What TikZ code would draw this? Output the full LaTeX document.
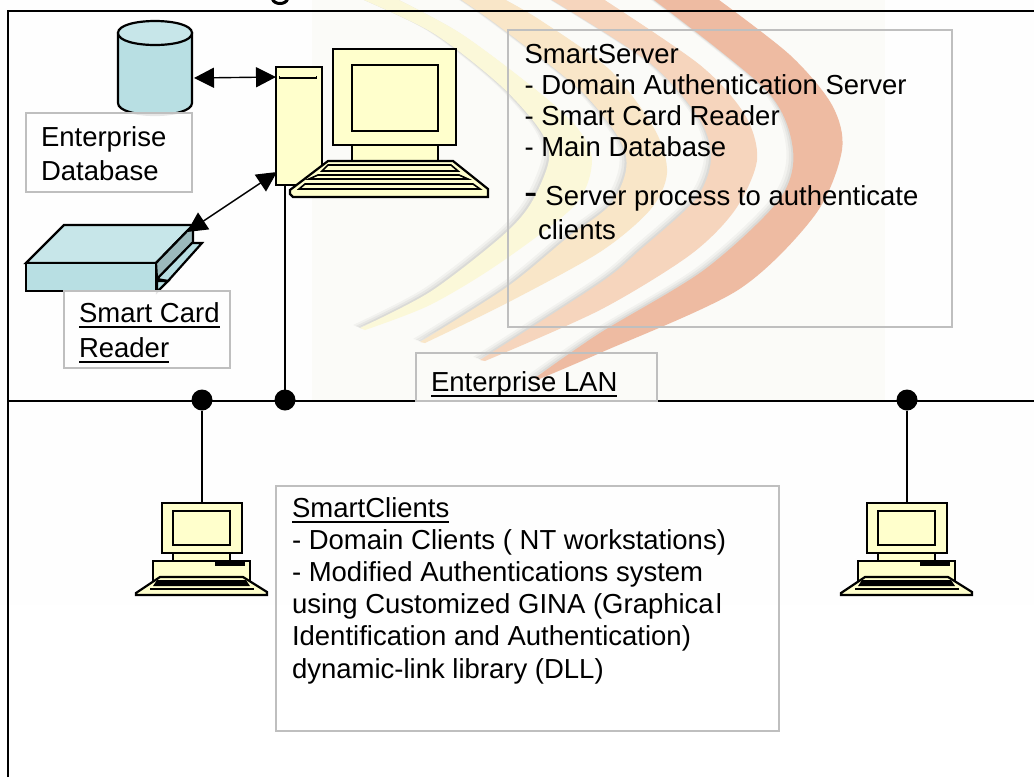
\documentclass[tikz,border=0pt]{standalone}
\usepackage{fontspec}
\setmainfont{Liberation Sans}
\usetikzlibrary{arrows.meta}
\definecolor{pcy}{HTML}{FFFFCC}
\definecolor{tealf}{HTML}{B8DFE3}
\definecolor{tealt}{HTML}{C7E6E9}
\definecolor{teald}{HTML}{9BB9BC}
\definecolor{gborder}{HTML}{BFBFBF}
\definecolor{paper}{HTML}{FBFBF8}
\definecolor{offw}{HTML}{FEFEFE}
\definecolor{swa}{HTML}{FBF8D9}
\definecolor{swb}{HTML}{F9E6C8}
\definecolor{swc}{HTML}{F6D5BD}
\definecolor{swd}{HTML}{EEBBA2}
\newcommand\ulx[1]{\setbox0\hbox{#1}\rlap{\rule[-6pt]{\wd0}{2pt}}\box0}
\newcommand\toprule{\rule{0pt}{20pt}}
\newcommand\swoosh[3]{%
  \fill[gray,opacity=.07,xshift=-7pt,yshift=3pt] plot[smooth] coordinates {#2} -- plot[smooth] coordinates {#3} -- cycle;
  \fill[gray,opacity=.09,xshift=-4.5pt,yshift=2pt] plot[smooth] coordinates {#2} -- plot[smooth] coordinates {#3} -- cycle;
  \fill[gray,opacity=.12,xshift=-2pt,yshift=1pt] plot[smooth] coordinates {#2} -- plot[smooth] coordinates {#3} -- cycle;
  \fill[#1] plot[smooth] coordinates {#2} -- plot[smooth] coordinates {#3} -- cycle;
}
\tikzset{
  x=1pt,y=-1pt,
  pcline/.style={draw=black,line width=2.2pt,fill=pcy,line join=miter,outer sep=0pt},
  thick2/.style={draw=black,line width=2pt},
  gbox/.style={draw=gborder,line width=2pt,inner sep=0pt,outer sep=0pt,anchor=north west},
  bdot/.style={circle,fill=black,minimum size=21pt,inner sep=0pt,outer sep=0pt},
  txt/.style={font=\fontsize{27.5}{#1}\selectfont,inner sep=0pt,outer sep=0pt,anchor=north west,align=left,text=black},
  twoway/.style={line width=1.4pt,{Triangle[length=20pt,width=20pt]}-{Triangle[length=20pt,width=20pt]}},
  client/.pic={
    \node[pcline,minimum width=80pt,minimum height=50pt,inner sep=0pt,anchor=north west] (-mon) at (162,503) {};
    \draw[pcline] (173,511) rectangle (230,545);
    \draw[pcline] (173,553) rectangle (230,561);
    \draw[pcline] (153,561) rectangle (250,594);
    \fill[black] (215,562) rectangle (245,566);
    \draw[pcline] (160,577) -- (243,577) -- (267,592) -- (267,595) -- (136,595) -- (136,593) -- cycle;
    \fill[black] (157,580) -- (246,580) -- (250,586) -- (153,586) -- cycle;
    \draw[black,line width=1.6pt] (150,589) -- (254,589);
  }
}
\begin{document}
\begin{tikzpicture}
\useasboundingbox (0,0) rectangle (1034,777);
% background
\fill[white] (0,0) rectangle (1034,777);
\fill[offw] (0,0) rectangle (1034,605);
\fill[paper] (312,0) rectangle (885,401);
\begin{scope}
\clip (312,0) rectangle (885,401);
\swoosh{swa}
  {(357,-3) (433,33) (500,85) (540,130) (549,160) (530,205) (500,238) (430,292) (360,328)}
  {(365,330) (430,305) (500,263) (575,205) (592,160) (575,125) (530,85) (460,33) (393,-3)}
\swoosh{swb}
  {(457,-3) (500,27) (580,90) (620,140) (626,170) (610,205) (567,238) (507,287) (420,342)}
  {(425,343) (507,303) (600,252) (650,210) (667,173) (655,130) (610,70) (540,20) (500,-3)}
\swoosh{swc}
  {(547,-3) (650,63) (700,120) (711,160) (695,200) (640,250) (600,283) (480,360)}
  {(485,361) (600,310) (690,255) (735,210) (757,160) (745,115) (700,65) (600,-3)}
\swoosh{swd}
  {(650,-3) (766,90) (793,150) (779,200) (704,270) (600,333) (535,378)}
  {(537,380) (600,353) (738,290) (815,215) (842,150) (832,105) (790,55) (715,-3)}
\end{scope}
% cut-off title descender
\draw[line width=3pt,black] (272.5,-1) .. controls (274,5) and (286,5) .. (287.5,-1);
% frame and bus
\coordinate (frameBL) at (8,777);
\coordinate (frameTL) at (8,11);
\coordinate (frameTR) at (1034,11);
\coordinate (busL) at (8,401);
\coordinate (busR) at (1034,401);
\draw[thick2] (frameBL) -- (frameTL) -- (frameTR);
\draw[thick2] (busL) -- (busR);
\node[bdot] (dotA) at (202,400) {};
\node[bdot] (dotB) at (285,400) {};
\node[bdot] (dotC) at (907,400) {};
% database cylinder
\node[inner sep=0pt,outer sep=0pt,minimum width=74pt,minimum height=92pt,anchor=north west] (db) at (118,21) {};
\draw[pcline,fill=tealf] (118,33) -- (118,103) .. controls (118,119) and (192,119) .. (192,103) -- (192,33) -- cycle;
\draw[pcline,fill=tealt] (118,33) .. controls (118,17) and (192,17) .. (192,33) .. controls (192,49) and (118,49) .. (118,33) -- cycle;
% smart card reader
\coordinate (rdtip) at (187,232);
\draw[pcline,fill=tealt] (26,263) -- (64,225) -- (193,225) -- (156,263) -- cycle;
\draw[pcline,fill=teald] (156,263) -- (193,225) -- (193,243) -- (157,279) -- cycle;
\draw[pcline,fill=tealf] (157,279) -- (192,243) -- (202,243) -- (168,281) -- cycle;
\draw[pcline,fill=tealf] (157,281) -- (168,281) -- (157,292) -- cycle;
\draw[pcline,fill=tealf] (26,263) rectangle (156,291);
% server
\node[pcline,minimum width=46pt,minimum height=118pt,inner sep=0pt,anchor=north west] (tower) at (276,67) {};
\draw[black,line width=1.6pt] (279.5,76) -- (279.5,78) -- (316.5,78) -- (316.5,76);
\node[pcline,minimum width=123pt,minimum height=96pt,inner sep=0pt,anchor=north west] (mon) at (333,49) {};
\draw[pcline] (352,65) rectangle (438,131);
\draw[pcline] (352,145) rectangle (438,161);
\draw[pcline] (328,161) -- (453,161) -- (488,189) -- (488,197) -- (293,197) -- (290,194) -- (290,190) -- cycle;
\draw[black,line width=1.6pt,fill=pcy] (328,165) -- (451,165) -- (458,171) -- (322,171) -- cycle;
\draw[black,line width=1.6pt,fill=pcy] (318,175) -- (459,175) -- (468,179) -- (309,179) -- cycle;
\draw[black,line width=1.6pt,fill=pcy] (305,184) -- (473,184) -- (480,189) -- (299,189) -- cycle;
% clients
\pic (c1) at (0,0) {client};
\pic (c2) at (705,0) {client};
% connectors
\draw[thick2] (dotA) -- (c1-mon.north);
\draw[thick2] (dotC) -- (c2-mon.north);
\draw[thick2] (dotB) -- (dotB |- tower.south);
\draw[twoway] ([xshift=2pt,yshift=-11pt]db.east) -- ([yshift=-10pt]tower.north west);
\draw[twoway] (rdtip) -- ([xshift=1pt,yshift=13pt]tower.south west);
% text boxes
\node[gbox,fill=white,fill opacity=.9,minimum width=166pt,minimum height=79pt] (dbbox) at (26,113) {};
\node[gbox,fill=white,fill opacity=.9,minimum width=166pt,minimum height=77pt] (cardbox) at (64,291) {};
\node[gbox,minimum width=444.5pt,minimum height=297pt] (srvbox) at (507.5,29.5) {};
\node[gbox,line width=2.4pt,minimum width=241pt,minimum height=48pt] (lanbox) at (416,353) {};
\node[gbox,minimum width=503pt,minimum height=245pt] (clibox) at (275.5,485.5) {};
\node[txt=34pt] (dbtxt) at (41,126) {\toprule Enterprise\\Database};
\node[txt=35pt] (cardtxt) at (79,302) {\toprule\ulx{Smart Card}\\\ulx{Reader}};
\node[txt=31pt] (srvtxt) at (524.5,43) {\toprule SmartServer\\- Domain Authentication Server\\- Smart Card Reader\\- Main Database\\[18pt]{\fontsize{40}{31}\selectfont -} Server process to authenticate\\[3pt]\hspace*{13.5pt}clients};
\node[txt=31pt] (lantxt) at (431,371) {\toprule\ulx{Enterprise LAN}};
\node[txt=32.2pt] (clitxt) at (292,497) {\toprule\ulx{SmartClients}\\- Domain Clients ( NT workstations)\\- Modified Authentications system\\using Customized GINA (Graphica\kern2pt l\\Identification and Authentication)\\dynamic-link library (DLL)};
\end{tikzpicture}
\end{document}
